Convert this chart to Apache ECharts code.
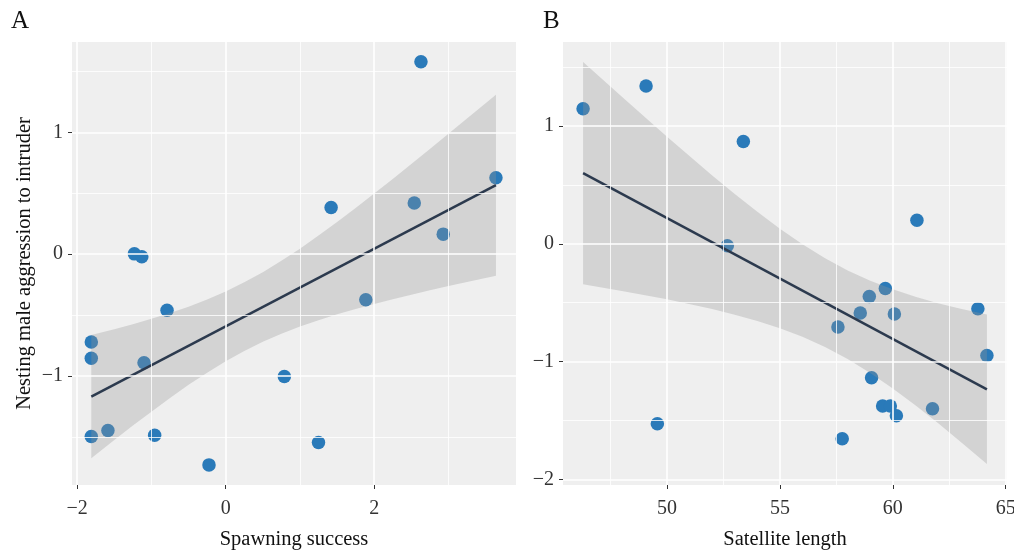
<!DOCTYPE html>
<html><head><meta charset="utf-8">
<script src="https://cdn.jsdelivr.net/npm/echarts@6/dist/echarts.min.js"></script>
<style>html,body{margin:0;padding:0;background:#fff}#c{width:1014px;height:551px}</style>
</head><body><div id="c"></div>
<script>
// ---------- Panel A data ----------
const pointsA = [
  [2.63, 1.579], [3.64, 0.626], [1.42, 0.383], [2.54, 0.419], [2.93, 0.164],
  [-1.23, 0.002], [-1.13, -0.022], [1.887, -0.375], [-0.79, -0.46],
  [-1.81, -0.722], [-1.81, -0.854], [-1.10, -0.892], [0.79, -1.004],
  [-1.81, -1.497], [-1.586, -1.448], [-0.957, -1.486], [1.25, -1.546], [-0.225, -1.73]
];
const fitA = [[-1.81, -1.169], [3.64, 0.566]];
const ribbonXA = [-1.81, -1.5, -1.25, -1, -0.75, -0.5, -0.25, 0, 0.25, 0.5, 0.75, 1, 1.25, 1.5, 1.75, 2, 2.25, 2.5, 2.75, 3, 3.25, 3.64];
const ribbonHiA = [-0.663, -0.616, -0.575, -0.531, -0.483, -0.431, -0.373, -0.306, -0.231, -0.148, -0.055, 0.045, 0.152, 0.264, 0.378, 0.497, 0.617, 0.739, 0.863, 0.987, 1.113, 1.309];
const ribbonLoA = [-1.675, -1.526, -1.407, -1.293, -1.181, -1.073, -0.973, -0.880, -0.795, -0.720, -0.653, -0.594, -0.542, -0.494, -0.450, -0.409, -0.370, -0.333, -0.297, -0.262, -0.229, -0.177];
const xTicksA = [-2, 0, 2];
const xMinorA = [-1, 1, 3];
const yTicksA = [-1, 0, 1];
const yMinorA = [-1.5, -0.5, 0.5, 1.5];

// ---------- Panel B data ----------
const pointsB = [
  [46.28, 1.146], [49.07, 1.339], [53.38, 0.869], [52.67, -0.017], [61.07, 0.199],
  [59.67, -0.379], [58.96, -0.447], [58.56, -0.588], [60.07, -0.597], [57.57, -0.707],
  [63.77, -0.552], [64.17, -0.948], [59.06, -1.137], [59.55, -1.378], [59.89, -1.378],
  [60.16, -1.46], [61.76, -1.40], [49.57, -1.528], [57.76, -1.655]
];
const fitB = [[46.28, 0.600], [64.17, -1.236]];
const ribbonXB = [46.28, 48, 50, 52, 53, 54, 55, 56, 57, 58, 59, 60, 61, 62, 63, 64.17];
const ribbonHiB = [1.544, 1.248, 0.909, 0.580, 0.423, 0.271, 0.128, -0.004, -0.123, -0.226, -0.313, -0.387, -0.450, -0.504, -0.552, -0.601];
const ribbonLoB = [-0.344, -0.401, -0.472, -0.554, -0.602, -0.655, -0.717, -0.790, -0.877, -0.979, -1.097, -1.228, -1.370, -1.522, -1.680, -1.870];
const xTicksB = [50, 55, 60, 65];
const xMinorB = [47.5, 52.5, 57.5, 62.5];
const yTicksB = [-2, -1, 0, 1];
const yMinorB = [-1.5, -0.5, 0.5, 1.5];

const FONT = '"Liberation Serif", "DejaVu Serif", serif';
const fmt = v => v < 0 ? '\u2212' + Math.abs(v) : String(v);

function xAxisCfg(idx, min, max, ticks, name) {
  return {
    type: 'value', gridIndex: idx, min: min, max: max, position: 'bottom',
    name: name, nameLocation: 'middle', nameGap: 44,
    nameTextStyle: {fontFamily: FONT, fontSize: 20.5, color: '#111'},
    axisLine: {show: false, onZero: false},
    axisTick: {show: true, customValues: ticks, length: 4, lineStyle: {color: '#333', width: 1}},
    axisLabel: {show: true, customValues: ticks, formatter: fmt, fontFamily: FONT, fontSize: 20, color: '#333', margin: 14},
    splitLine: {show: false}
  };
}
function yAxisCfg(idx, min, max, ticks, name) {
  return {
    type: 'value', gridIndex: idx, min: min, max: max, position: 'left',
    name: name, nameLocation: 'middle', nameGap: 37, nameRotate: 90,
    nameTextStyle: {fontFamily: FONT, fontSize: 20.5, color: '#111'},
    axisLine: {show: false, onZero: false},
    axisTick: {show: true, customValues: ticks, length: 4, lineStyle: {color: '#333', width: 1}},
    axisLabel: {show: true, customValues: ticks, formatter: fmt, fontFamily: FONT, fontSize: 20, color: '#333', margin: 9},
    splitLine: {show: false}
  };
}
function gridLines(idx, xMaj, xMin, yMaj, yMin) {
  const maj = {color: '#ffffff', width: 1.6, type: 'solid'};
  const mnr = {color: '#ffffff', width: 0.8, type: 'solid'};
  const d = [];
  xMin.forEach(v => d.push({xAxis: v, lineStyle: mnr}));
  yMin.forEach(v => d.push({yAxis: v, lineStyle: mnr}));
  xMaj.forEach(v => d.push({xAxis: v, lineStyle: maj}));
  yMaj.forEach(v => d.push({yAxis: v, lineStyle: maj}));
  return {
    type: 'scatter', xAxisIndex: idx, yAxisIndex: idx, data: [], z: 1, silent: true,
    markLine: {silent: true, symbol: ['none', 'none'], label: {show: false}, animation: false,
      lineStyle: {type: 'solid'}, emphasis: {disabled: true}, data: d}
  };
}
function ribbon(idx, xs, hi, lo) {
  return {
    type: 'custom', xAxisIndex: idx, yAxisIndex: idx, z: 3, silent: true,
    data: [[xs[0], lo[0]]],
    renderItem: function (params, api) {
      const pts = [];
      for (let i = 0; i < xs.length; i++) pts.push(api.coord([xs[i], hi[i]]));
      for (let i = xs.length - 1; i >= 0; i--) pts.push(api.coord([xs[i], lo[i]]));
      return {type: 'polygon', shape: {points: pts}, style: {fill: 'rgba(150,148,148,0.31)'}};
    }
  };
}
function pts(idx, data) {
  return {type: 'scatter', xAxisIndex: idx, yAxisIndex: idx, data: data, z: 2, silent: true,
    symbolSize: 13.5, itemStyle: {color: '#2a7ab9', opacity: 1}};
}
function fit(idx, data) {
  return {type: 'line', xAxisIndex: idx, yAxisIndex: idx, data: data, z: 4, silent: true,
    showSymbol: false, symbol: 'none', lineStyle: {color: '#2c3a4e', width: 2.5}};
}

const chart = echarts.init(document.getElementById('c'), null, {renderer: 'canvas'});
chart.setOption({
  animation: false,
  backgroundColor: '#ffffff',
  textStyle: {fontFamily: FONT},
  grid: [
    {left: 72, top: 42, width: 444, height: 443, show: true, backgroundColor: '#efefef', borderWidth: 0, containLabel: false, outerBoundsMode: 'none'},
    {left: 563, top: 42, width: 444, height: 443, show: true, backgroundColor: '#efefef', borderWidth: 0, containLabel: false, outerBoundsMode: 'none'}
  ],
  xAxis: [
    xAxisCfg(0, -2.07, 3.91, xTicksA, 'Spawning success'),
    xAxisCfg(1, 45.39, 65.06, xTicksB, 'Satellite length')
  ],
  yAxis: [
    yAxisCfg(0, -1.895, 1.741, yTicksA, 'Nesting male aggression to intruder'),
    yAxisCfg(1, -2.048, 1.713, yTicksB, '')
  ],
  graphic: [
    {type: 'text', left: 11, top: 9, style: {text: 'A', font: '25px "Liberation Serif"', fill: '#111'}},
    {type: 'text', left: 543, top: 9, style: {text: 'B', font: '25px "Liberation Serif"', fill: '#111'}}
  ],
  series: [
    gridLines(0, xTicksA, xMinorA, yTicksA, yMinorA),
    gridLines(1, xTicksB, xMinorB, yTicksB, yMinorB),
    pts(0, pointsA), pts(1, pointsB),
    ribbon(0, ribbonXA, ribbonHiA, ribbonLoA), ribbon(1, ribbonXB, ribbonHiB, ribbonLoB),
    fit(0, fitA), fit(1, fitB)
  ]
});
</script></body></html>
